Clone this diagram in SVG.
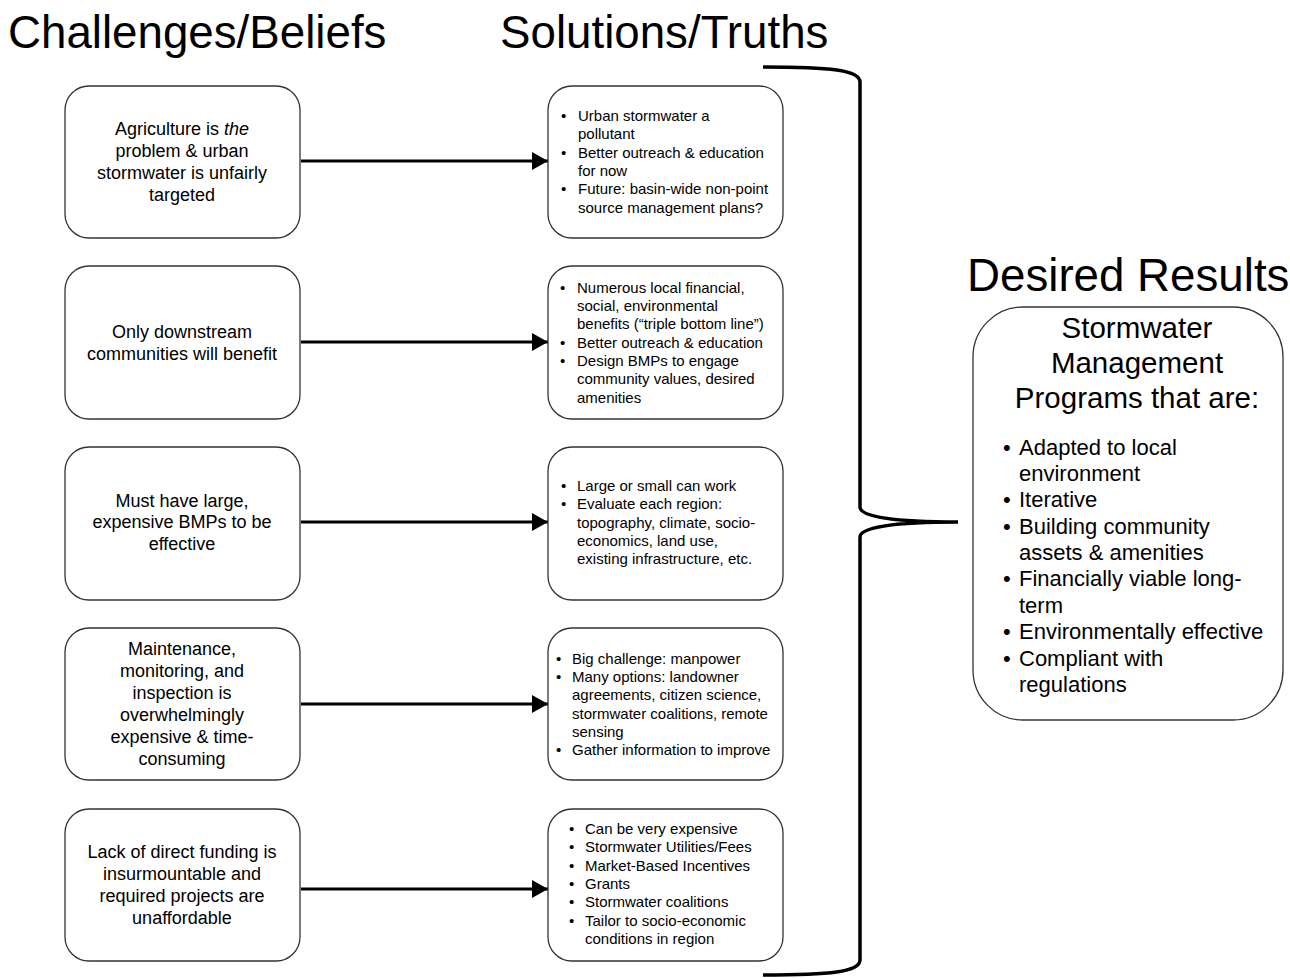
<svg xmlns="http://www.w3.org/2000/svg" width="1290" height="978" viewBox="0 0 1290 978">
<style>
.box{fill:#fff;stroke:#333;stroke-width:1.3}
.t{font-family:"Liberation Sans",Arial,sans-serif;fill:#000}
.title{font-size:45.7px}
.lt{font-size:18px;text-anchor:middle}
.mt{font-size:15px}
.rh{font-size:29.5px;text-anchor:middle}
.rb{font-size:22px}
.conn{stroke:#000;stroke-width:3;fill:none}
</style>
<defs>
<marker id="ah" viewBox="0 0 16 18" refX="16" refY="9" markerWidth="16" markerHeight="18" markerUnits="userSpaceOnUse" orient="auto">
<path d="M0,0 L16,9 L0,18 Z" fill="#000"/>
</marker>
</defs>
<rect width="1290" height="978" fill="#fff"/>
<text class="t title" x="8" y="48">Challenges/Beliefs</text>
<text class="t title" x="500" y="48">Solutions/Truths</text>
<text class="t title" x="967" y="291">Desired Results</text>

<g id="connectors">
<line class="conn" x1="301" y1="161" x2="548" y2="161" marker-end="url(#ah)"/>
<line class="conn" x1="301" y1="342" x2="548" y2="342" marker-end="url(#ah)"/>
<line class="conn" x1="301" y1="522" x2="548" y2="522" marker-end="url(#ah)"/>
<line class="conn" x1="301" y1="704" x2="548" y2="704" marker-end="url(#ah)"/>
<line class="conn" x1="301" y1="889" x2="548" y2="889" marker-end="url(#ah)"/>
<path id="brace" d="M763,67 C830,67 860,70 860,82 L860,507 C860,517 895,522 958,522 C895,522 860,527 860,537 L860,960 C860,972 830,975 763,975" stroke="#000" stroke-width="3.5" fill="none"/>
</g>

<g id="c1">
<rect class="box" x="65" y="86" width="235" height="152" rx="24"/>
<text class="t lt" x="182" y="135">Agriculture is <tspan font-style="italic">the</tspan></text>
<text class="t lt" x="182" y="157">problem &amp; urban</text>
<text class="t lt" x="182" y="179">stormwater is unfairly</text>
<text class="t lt" x="182" y="201">targeted</text>
</g>
<g id="c2">
<rect class="box" x="65" y="266" width="235" height="153" rx="24"/>
<text class="t lt" x="182" y="338">Only downstream</text>
<text class="t lt" x="182" y="360">communities will benefit</text>
</g>
<g id="c3">
<rect class="box" x="65" y="447" width="235" height="153" rx="24"/>
<text class="t lt" x="182" y="507">Must have large,</text>
<text class="t lt" x="182" y="528">expensive BMPs to be</text>
<text class="t lt" x="182" y="550">effective</text>
</g>
<g id="c4">
<rect class="box" x="65" y="628" width="235" height="152" rx="24"/>
<text class="t lt" x="182" y="655">Maintenance,</text>
<text class="t lt" x="182" y="677">monitoring, and</text>
<text class="t lt" x="182" y="699">inspection is</text>
<text class="t lt" x="182" y="721">overwhelmingly</text>
<text class="t lt" x="182" y="743">expensive &amp; time-</text>
<text class="t lt" x="182" y="765">consuming</text>
</g>
<g id="c5">
<rect class="box" x="65" y="809" width="235" height="152" rx="24"/>
<text class="t lt" x="182" y="858">Lack of direct funding is</text>
<text class="t lt" x="182" y="880">insurmountable and</text>
<text class="t lt" x="182" y="902">required projects are</text>
<text class="t lt" x="182" y="924">unaffordable</text>
</g>

<g id="s1">
<rect class="box" x="548" y="86" width="235" height="152" rx="24"/>
<g class="t mt">
<text x="561" y="121">•</text><text x="578" y="121">Urban stormwater a</text>
<text x="578" y="139">pollutant</text>
<text x="561" y="158">•</text><text x="578" y="158">Better outreach &amp; education</text>
<text x="578" y="176">for now</text>
<text x="561" y="194">•</text><text x="578" y="194">Future: basin-wide non-point</text>
<text x="578" y="213">source management plans?</text>
</g>
</g>
<g id="s2">
<rect class="box" x="548" y="266" width="235" height="153" rx="24"/>
<g class="t mt">
<text x="560" y="293">•</text><text x="577" y="293">Numerous local financial,</text>
<text x="577" y="311">social, environmental</text>
<text x="577" y="329">benefits (“triple bottom line”)</text>
<text x="560" y="348">•</text><text x="577" y="348">Better outreach &amp; education</text>
<text x="560" y="366">•</text><text x="577" y="366">Design BMPs to engage</text>
<text x="577" y="384">community values, desired</text>
<text x="577" y="403">amenities</text>
</g>
</g>
<g id="s3">
<rect class="box" x="548" y="447" width="235" height="153" rx="24"/>
<g class="t mt">
<text x="561" y="491">•</text><text x="577" y="491">Large or small can work</text>
<text x="561" y="509">•</text><text x="577" y="509">Evaluate each region:</text>
<text x="577" y="528">topography, climate, socio-</text>
<text x="577" y="546">economics, land use,</text>
<text x="577" y="564">existing infrastructure, etc.</text>
</g>
</g>
<g id="s4">
<rect class="box" x="548" y="628" width="235" height="152" rx="24"/>
<g class="t mt">
<text x="556" y="664">•</text><text x="572" y="664">Big challenge: manpower</text>
<text x="556" y="682">•</text><text x="572" y="682">Many options: landowner</text>
<text x="572" y="700">agreements, citizen science,</text>
<text x="572" y="719">stormwater coalitions, remote</text>
<text x="572" y="737">sensing</text>
<text x="556" y="755">•</text><text x="572" y="755">Gather information to improve</text>
</g>
</g>
<g id="s5">
<rect class="box" x="548" y="809" width="235" height="152" rx="24"/>
<g class="t mt">
<text x="569" y="834">•</text><text x="585" y="834">Can be very expensive</text>
<text x="569" y="852">•</text><text x="585" y="852">Stormwater Utilities/Fees</text>
<text x="569" y="871">•</text><text x="585" y="871">Market-Based Incentives</text>
<text x="569" y="889">•</text><text x="585" y="889">Grants</text>
<text x="569" y="907">•</text><text x="585" y="907">Stormwater coalitions</text>
<text x="569" y="926">•</text><text x="585" y="926">Tailor to socio-economic</text>
<text x="585" y="944">conditions in region</text>
</g>
</g>

<g id="results">
<rect class="box" x="973" y="307" width="310" height="413" rx="50"/>
<text class="t rh" x="1137" y="338">Stormwater</text>
<text class="t rh" x="1137" y="373">Management</text>
<text class="t rh" x="1137" y="408">Programs that are:</text>
<g class="t rb">
<text x="1003" y="455">•</text><text x="1019" y="455">Adapted to local</text>
<text x="1019" y="481">environment</text>
<text x="1003" y="507">•</text><text x="1019" y="507">Iterative</text>
<text x="1003" y="534">•</text><text x="1019" y="534">Building community</text>
<text x="1019" y="560">assets &amp; amenities</text>
<text x="1003" y="586">•</text><text x="1019" y="586">Financially viable long-</text>
<text x="1019" y="613">term</text>
<text x="1003" y="639">•</text><text x="1019" y="639">Environmentally effective</text>
<text x="1003" y="666">•</text><text x="1019" y="666">Compliant with</text>
<text x="1019" y="692">regulations</text>
</g>
</g>
</svg>
